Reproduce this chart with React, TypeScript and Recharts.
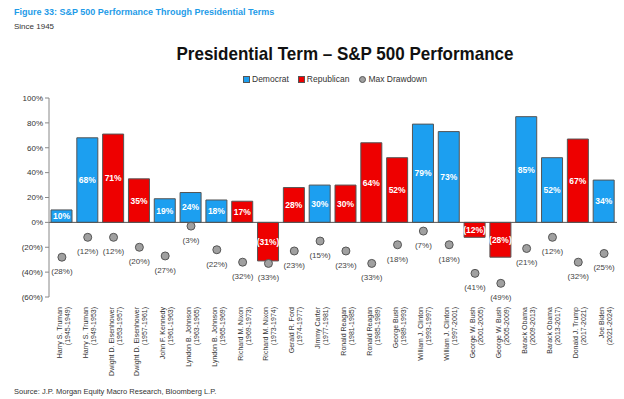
import React from "react";
import {
  ComposedChart,
  Bar,
  Line,
  XAxis,
  YAxis,
  Cell,
  LabelList,
  ReferenceLine,
} from "recharts";

const presidents = [
  "Harry S. Truman", "Harry S. Truman", "Dwight D. Eisenhower", "Dwight D. Eisenhower",
  "John F. Kennedy", "Lyndon B. Johnson", "Lyndon B. Johnson", "Richard M. Nixon",
  "Richard M. Nixon", "Gerald R. Ford", "Jimmy Carter", "Ronald Reagan", "Ronald Reagan",
  "George Bush", "William J. Clinton", "William J. Clinton", "George W. Bush",
  "George W. Bush", "Barack Obama", "Barack Obama", "Donald J. Trump", "Joe Biden",
];
const terms = [
  "(1945-1949)", "(1949-1953)", "(1953-1957)", "(1957-1961)", "(1961-1963)", "(1963-1965)",
  "(1965-1969)", "(1969-1973)", "(1973-1974)", "(1974-1977)", "(1977-1981)", "(1981-1985)",
  "(1985-1989)", "(1989-1993)", "(1993-1997)", "(1997-2001)", "(2001-2005)", "(2005-2009)",
  "(2009-2013)", "(2013-2017)", "(2017-2021)", "(2021-2024)",
];
const parties = [
  "D", "D", "R", "R", "D", "D", "D", "R", "R", "R", "D",
  "R", "R", "R", "D", "D", "R", "R", "D", "D", "R", "D",
];
const performance = [10, 68, 71, 35, 19, 24, 18, 17, -31, 28, 30, 30, 64, 52, 79, 73, -12, -28, 85, 52, 67, 34];
const drawdown = [-28, -12, -12, -20, -27, -3, -22, -32, -33, -23, -15, -23, -33, -18, -7, -18, -41, -49, -21, -12, -32, -25];
const yTicks = [-60, -40, -20, 0, 20, 40, 60, 80, 100];

const BLUE = "#1c9ff0";
const RED = "#ee0000";
const FONT = "'Liberation Sans', Arial, sans-serif";

const data = presidents.map((p, i) => ({
  key: `${p}|${terms[i]}`,
  name: p,
  term: terms[i],
  party: parties[i],
  perf: performance[i],
  dd: drawdown[i],
}));

const pct = (v: number) => (v < 0 ? `(${Math.abs(v)}%)` : `${v}%`);

const XTick = (props: any) => {
  const { x, y, payload } = props;
  const [name, term] = String(payload.value).split("|");
  return (
    <g transform={`translate(${x + 1},${y})`}>
      <text transform="rotate(-90)" textAnchor="end" fontSize={7} fill="#333" fontFamily={FONT}>
        <tspan x={-2} y={-1}>{name}</tspan>
        <tspan x={-2} y={7}>{term}</tspan>
      </text>
    </g>
  );
};

const DDLabel = (props: any) => {
  const { x, y, value } = props;
  return (
    <text x={x} y={y + 17} textAnchor="middle" fontSize={8} fill="#444" fontFamily={FONT}>
      {pct(value)}
    </text>
  );
};

const BarLabel = (props: any) => {
  const { x, y, width, height, value } = props;
  return (
    <text
      x={x + width / 2}
      y={y + height / 2 + 3}
      textAnchor="middle"
      fontSize={8.5}
      fontWeight="bold"
      fill="#fff"
      fontFamily={FONT}
    >
      {pct(value)}
    </text>
  );
};

const LegendBox = () => (
  <div style={{ position: "absolute", top: 74, left: 243, display: "flex", fontSize: 8.5, fontFamily: FONT, color: "#333" }}>
    <span style={{ display: "flex", alignItems: "center", marginRight: 9 }}>
      <span style={{ width: 5, height: 5, background: BLUE, border: "1px solid #555", marginRight: 2 }} />
      Democrat
    </span>
    <span style={{ display: "flex", alignItems: "center", marginRight: 10 }}>
      <span style={{ width: 5, height: 5, background: RED, border: "1px solid #555", marginRight: 2 }} />
      Republican
    </span>
    <span style={{ display: "flex", alignItems: "center" }}>
      <span style={{ width: 5, height: 5, borderRadius: "50%", background: "#a0a0a0", border: "1px solid #555", marginRight: 2 }} />
      Max Drawdown
    </span>
  </div>
);

export default function App() {
  return (
    <div style={{ position: "absolute", left: 0, top: 0, width: 624, height: 399, background: "#fff", fontFamily: FONT }}>
      <div style={{ position: "absolute", left: 14, top: 7, fontSize: 9, fontWeight: "bold", color: "#1e9be8" }}>
        Figure 33: S&amp;P 500 Performance Through Presidential Terms
      </div>
      <div style={{ position: "absolute", left: 14, top: 22, fontSize: 8, color: "#333" }}>Since 1945</div>
      <div
        style={{
          position: "absolute",
          left: 0,
          width: 690,
          top: 43,
          textAlign: "center",
          fontSize: 18.5,
          fontWeight: "bold",
          color: "#111",
          transform: "scaleX(0.92)",
          transformOrigin: "345px 0",
          fontFamily: FONT,
        }}
      >
        Presidential Term – S&amp;P 500 Performance
      </div>
      <div style={{ position: "absolute", left: 14, top: 387, fontSize: 7.5, color: "#333" }}>
        Source: J.P. Morgan Equity Macro Research, Bloomberg L.P.
      </div>
      <LegendBox />
      <div style={{ position: "absolute", left: 0, top: 0 }}>
        <ComposedChart width={624} height={399} data={data} margin={{ top: 98, right: 7, bottom: 32, left: 0 }}>
          <XAxis
            dataKey="key"
            axisLine={false}
            tickLine={false}
            interval={0}
            height={70}
            tick={<XTick />}
          />
          <YAxis
            domain={[-60, 100]}
            ticks={yTicks}
            width={49}
            tickFormatter={pct}
            tick={{ fontSize: 8, fill: "#333", fontFamily: FONT }}
            axisLine={{ stroke: "#888" }}
            tickLine={{ stroke: "#888" }}
            tickSize={4}
          />
          <ReferenceLine y={0} stroke="#555" strokeWidth={1} />
          <Bar dataKey="perf" barSize={21} stroke="#555" strokeWidth={1} isAnimationActive={false}>
            {data.map((d, i) => (
              <Cell key={i} fill={d.party === "D" ? BLUE : RED} />
            ))}
            <LabelList dataKey="perf" content={<BarLabel />} />
          </Bar>
          <Line
            dataKey="dd"
            stroke="none"
            isAnimationActive={false}
            dot={{ r: 4, fill: "#a0a0a0", stroke: "#555", strokeWidth: 1 }}
            activeDot={false}
          >
            <LabelList dataKey="dd" content={<DDLabel />} />
          </Line>
        </ComposedChart>
      </div>
    </div>
  );
}
